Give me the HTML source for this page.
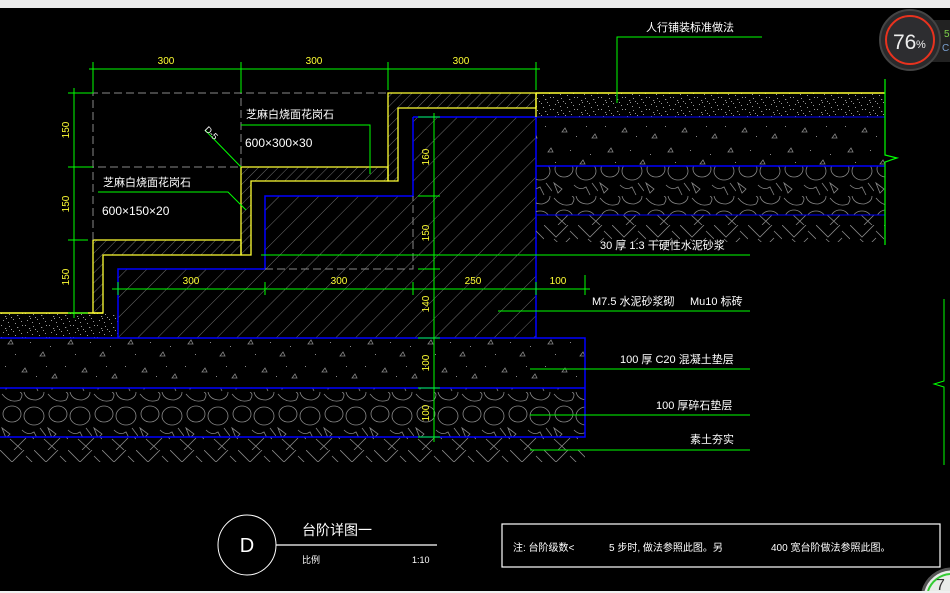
<!DOCTYPE html>
<html><head><meta charset="utf-8"><style>
html,body{margin:0;padding:0;background:#000;width:950px;height:593px;overflow:hidden}
svg{display:block;overflow:hidden}
text{font-family:"Liberation Sans","Noto Sans CJK SC",sans-serif}
</style></head><body>
<svg width="950" height="593" viewBox="0 0 950 593" xmlns="http://www.w3.org/2000/svg">
<defs>
<pattern id="hb" width="14" height="14" patternUnits="userSpaceOnUse" patternTransform="rotate(45)">
<line x1="0" y1="0" x2="0" y2="14" stroke="#8a8a8a" stroke-width="0.8"/></pattern>
<pattern id="hs" width="7" height="7" patternUnits="userSpaceOnUse" patternTransform="rotate(45)">
<line x1="0" y1="0" x2="0" y2="7" stroke="#8a8a8a" stroke-width="0.8"/></pattern>
<pattern id="grav" width="24" height="12" patternUnits="userSpaceOnUse">
<rect width="24" height="12" fill="#000"/>
<g fill="#999"><rect x="1" y="1" width="1" height="1"/><rect x="5" y="4" width="1.2" height="1"/><rect x="9" y="2" width="1" height="1"/><rect x="13" y="7" width="1" height="1"/><rect x="17" y="3" width="1.3" height="1"/><rect x="21" y="9" width="1" height="1"/><rect x="3" y="8" width="1" height="1"/><rect x="8" y="10" width="1" height="1"/><rect x="11" y="5" width="1" height="1"/><rect x="19" y="6" width="1" height="1"/><rect x="15" y="11" width="1" height="1"/><rect x="22" y="1" width="1" height="1"/><rect x="6" y="6" width="1" height="1"/></g></pattern>
<pattern id="conc" width="60" height="48" patternUnits="userSpaceOnUse">
<g fill="none" stroke="#888" stroke-width="0.8"><path d="M8 8 l3 -4 l2 4z"/><path d="M40 20 l3 -4 l2 4z"/><path d="M22 36 l3 -4 l2 4z"/><path d="M52 42 l3 -4 l2 4z"/></g>
<g fill="#888"><rect x="15" y="18" width="1" height="1"/><rect x="30" y="6" width="1" height="1"/><rect x="50" y="10" width="1" height="1"/><rect x="5" y="30" width="1" height="1"/><rect x="36" y="40" width="1" height="1"/><rect x="46" y="30" width="1" height="1"/></g></pattern>
<pattern id="rub" width="46" height="49" patternUnits="userSpaceOnUse">
<g fill="none" stroke="#888" stroke-width="0.8">
<path d="M2 2 q8 10 18 6 q4 -6 0 -8"/><path d="M24 0 q2 8 12 8 q8 -2 8 -8"/>
<ellipse cx="12" cy="22" rx="9" ry="8"/><ellipse cx="34" cy="24" rx="10" ry="9"/>
<path d="M2 36 l8 6 l-4 4z"/><path d="M22 38 q6 6 12 2 l4 8"/><path d="M40 36 l6 8"/></g></pattern>
<pattern id="soil" width="34" height="25" patternUnits="userSpaceOnUse">
<path d="M0 0 L12 12 L24 0 M10 14 L22 25 M26 6 L34 14 M14 25 L26 13" fill="none" stroke="#888" stroke-width="0.8"/></pattern>
</defs>
<rect x="0" y="0" width="950" height="8" fill="#ececec"/>

<rect x="0" y="313" width="118" height="25" fill="url(#grav)"/>
<line x1="0" y1="313" x2="103" y2="313" stroke="#ffff33" stroke-width="1.5"/>

<path d="M413 117 H536 V338 H118 V269 H265 V196 H413 Z" fill="url(#hb)" stroke="none"/>
<path d="M413 117 V196 H265 V269 H118 V338 M413 117 H536 V338" fill="none" stroke="#0000ff" stroke-width="1.5"/>
<path d="M265 269 H413 V196" fill="none" stroke="#888" stroke-dasharray="8 4"/>

<rect x="536" y="93" width="349" height="24" fill="url(#grav)"/>
<rect x="536" y="117" width="349" height="49" fill="url(#conc)"/>
<rect x="536" y="166" width="349" height="49" fill="url(#rub)"/>
<rect x="536" y="215" width="349" height="27" fill="url(#soil)"/>
<line x1="536" y1="93" x2="885" y2="93" stroke="#ffff33" stroke-width="1.5"/>
<line x1="536" y1="117" x2="885" y2="117" stroke="#0000ff" stroke-width="1"/>
<line x1="536" y1="166" x2="885" y2="166" stroke="#0000ff" stroke-width="1.5"/>
<line x1="536" y1="215" x2="885" y2="215" stroke="#0000ff" stroke-width="1"/>
<path d="M885 79 V155 L897 158 L885 162 V245" fill="none" stroke="#00ff00" stroke-width="1.2"/>

<rect x="0" y="338" width="585" height="50" fill="url(#conc)"/>
<rect x="0" y="388" width="585" height="49" fill="url(#rub)"/>
<rect x="0" y="437" width="585" height="25" fill="url(#soil)"/>
<path d="M0 338 H585 V437 H0 M0 388 H585" fill="none" stroke="#0000ff" stroke-width="1.5"/>

<path d="M388 93 H536 V108 H398 V181 H388 Z" fill="url(#hs)" stroke="#ffff33" stroke-width="1.3"/>
<path d="M241 167 H388 V181 H251 V255 H241 Z" fill="url(#hs)" stroke="#ffff33" stroke-width="1.3"/>
<path d="M93 240 H241 V255 H103 V313 H93 Z" fill="url(#hs)" stroke="#ffff33" stroke-width="1.3"/>
<line x1="536" y1="93" x2="536" y2="117" stroke="#ffff33" stroke-width="1.3"/>

<path d="M93 240 V93 H388 M74 167 H241 V93" fill="none" stroke="#888" stroke-dasharray="8 4"/>

<g stroke="#00ff00" stroke-width="1" fill="none">
<line x1="89" y1="69" x2="540" y2="69"/>
<line x1="93" y1="62" x2="93" y2="93"/><line x1="241" y1="62" x2="241" y2="93"/>
<line x1="388" y1="62" x2="388" y2="90"/><line x1="536" y1="62" x2="536" y2="90"/>
<line x1="74" y1="88" x2="74" y2="318"/>
<line x1="68" y1="93" x2="93" y2="93"/><line x1="68" y1="167" x2="93" y2="167"/>
<line x1="68" y1="240" x2="88" y2="240"/><line x1="68" y1="313" x2="88" y2="313"/>
<line x1="434" y1="113" x2="434" y2="442"/>
<line x1="418" y1="117" x2="440" y2="117"/><line x1="418" y1="196" x2="440" y2="196"/>
<line x1="418" y1="269" x2="440" y2="269"/><line x1="418" y1="338" x2="440" y2="338"/>
<line x1="418" y1="388" x2="440" y2="388"/><line x1="418" y1="437" x2="440" y2="437"/>
<line x1="112" y1="289" x2="590" y2="289"/>
<line x1="118" y1="282" x2="118" y2="295"/><line x1="265" y1="282" x2="265" y2="295"/>
<line x1="413" y1="282" x2="413" y2="295"/><line x1="536" y1="282" x2="536" y2="295"/>
<line x1="585" y1="275" x2="585" y2="295"/>
<path d="M241 125 H370 V174"/>
<path d="M98 192 H228 L246 210"/>
<line x1="205" y1="130" x2="241" y2="167"/>
<path d="M762 37 H617 V103"/>
<line x1="261" y1="255" x2="750" y2="255"/>
<line x1="498" y1="311" x2="750" y2="311"/>
<line x1="530" y1="369" x2="750" y2="369"/>
<line x1="530" y1="415" x2="750" y2="415"/>
<line x1="530" y1="450" x2="750" y2="450"/>
<path d="M944 299 V381 L934 384 L944 387 V465"/>
</g>

<g fill="#ffff33" font-size="10">
<text x="166" y="64" text-anchor="middle">300</text>
<text x="314" y="64" text-anchor="middle">300</text>
<text x="461" y="64" text-anchor="middle">300</text>
<text x="191" y="284" text-anchor="middle">300</text>
<text x="339" y="284" text-anchor="middle">300</text>
<text x="473" y="284" text-anchor="middle">250</text>
<text x="558" y="284" text-anchor="middle">100</text>
<text transform="translate(69,130) rotate(-90)" text-anchor="middle">150</text>
<text transform="translate(69,204) rotate(-90)" text-anchor="middle">150</text>
<text transform="translate(69,277) rotate(-90)" text-anchor="middle">150</text>
<text transform="translate(429,157) rotate(-90)" text-anchor="middle">160</text>
<text transform="translate(429,233) rotate(-90)" text-anchor="middle">150</text>
<text transform="translate(429,304) rotate(-90)" text-anchor="middle">140</text>
<text transform="translate(429,363) rotate(-90)" text-anchor="middle">100</text>
<text transform="translate(429,413) rotate(-90)" text-anchor="middle">100</text>
</g>

<g fill="#fff" font-size="11">
<text x="246" y="118">芝麻白烧面花岗石</text>
<text x="245" y="147" font-size="12">600×300×30</text>
<text x="103" y="186">芝麻白烧面花岗石</text>
<text x="102" y="215" font-size="12">600×150×20</text>
<text transform="translate(204,130) rotate(45)" font-size="9">D-5</text>
<text x="646" y="31">人行铺装标准做法</text>
<text x="600" y="249">30 厚 1:3  干硬性水泥砂浆</text>
<text x="592" y="305">M7.5  水泥砂浆砌</text>
<text x="690" y="305">Mu10  标砖</text>
<text x="620" y="363">100 厚 C20 混凝土垫层</text>
<text x="656" y="409">100  厚碎石垫层</text>
<text x="690" y="443">素土夯实</text>
</g>

<ellipse cx="247" cy="545" rx="29" ry="30" fill="none" stroke="#fff" stroke-width="1"/>
<text x="247" y="552" fill="#fff" font-size="20" text-anchor="middle">D</text>
<line x1="276" y1="545" x2="437" y2="545" stroke="#fff" stroke-width="1.2"/>
<text x="302" y="535" fill="#fff" font-size="14">台阶详图一</text>
<text x="302" y="563" fill="#fff" font-size="9">比例</text>
<text x="412" y="563" fill="#fff" font-size="9">1:10</text>
<rect x="502" y="524" width="438" height="43" fill="none" stroke="#fff" stroke-width="1.2"/>
<g fill="#fff" font-size="10">
<text x="513" y="551">注: 台阶级数&lt;</text>
<text x="609" y="551">5 步时, 做法参照此图。另</text>
<text x="771" y="551">400 宽台阶做法参照此图。</text>
</g>

<rect x="930" y="20" width="20" height="42" fill="#222"/>
<text x="944" y="37" fill="#7cd04a" font-size="10">5</text>
<text x="942" y="51" fill="#7aa0d0" font-size="10">C</text>
<circle cx="910" cy="40" r="30" fill="#2a2a2c" stroke="#444" stroke-width="2"/>
<circle cx="910" cy="40" r="24" fill="#2d2d30" stroke="#e8321e" stroke-width="2"/>
<text x="893" y="49" fill="#eee" font-size="21">76</text>
<text x="916" y="48" fill="#eee" font-size="11">%</text>
<path d="M923 591 A30 30 0 0 1 950 569 V591 Z" fill="#e9ece9"/>
<path d="M923 591 A30 30 0 0 1 950 569" fill="none" stroke="#555" stroke-width="3"/>
<path d="M928 591 A25 25 0 0 1 950 574" fill="none" stroke="#3c3" stroke-width="2"/>
<text x="936" y="590" fill="#333" font-size="16">7</text>
<rect x="0" y="591" width="950" height="2" fill="#f0f0f0"/>
</svg>
</body></html>
